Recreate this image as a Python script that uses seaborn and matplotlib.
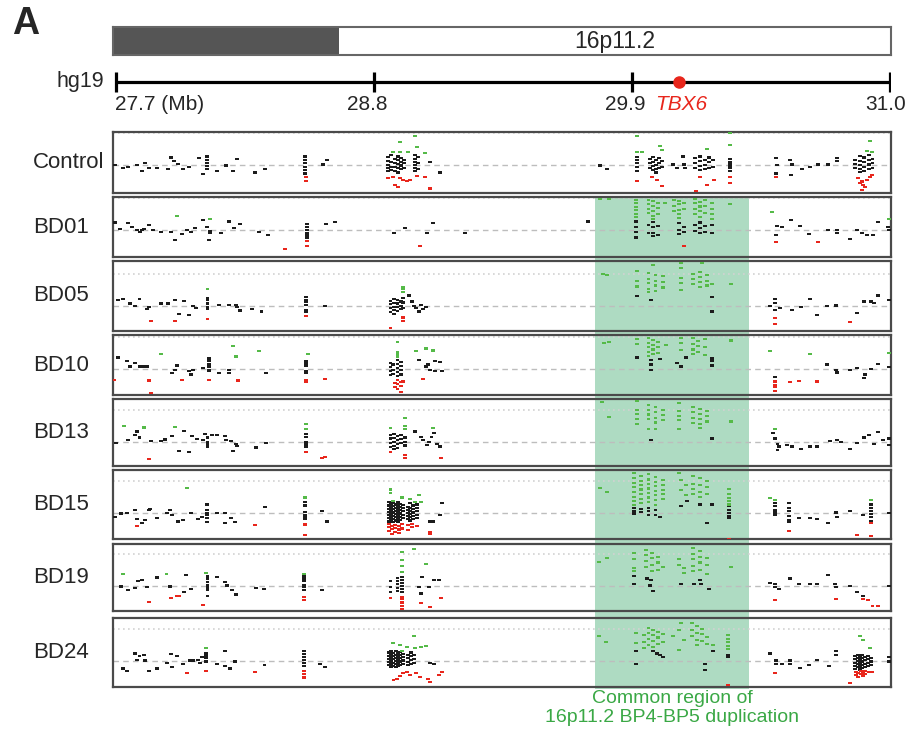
import numpy as np
import pandas as pd
import matplotlib
matplotlib.use("Agg")
import matplotlib.pyplot as plt
import matplotlib.transforms as mtransforms
from matplotlib.patches import Rectangle
import seaborn as sns

# region / axis
samples = ["Control", "BD01", "BD05", "BD10", "BD13", "BD15", "BD19", "BD24"]
axis_ticks = [27.7, 28.8, 29.9, 31.0]
axis_tick_labels = ["27.7 (Mb)", "28.8", "29.9", "31.0"]
tbx6_pos = 30.10
band_dark_end = 28.65
dup_start, dup_end = 29.74, 30.40
dup_level = 0.6

# probe log2 ratios, written as (position Mb, [ratios at that position])
control_black = [(27.696, [0.0]), (27.73, [-0.06]), (27.751, [-0.03]), (27.79, [0.0]), (27.811, [-0.11]),
    (27.824, [0.04]), (27.841, [-0.06]), (27.875, [-0.05]), (27.922, [-0.08]), (27.935, [0.14]),
    (27.947, [0.08]), (27.964, [0.02]), (27.986, [-0.08]), (28.011, [-0.03]), (28.054, [0.13]),
    (28.071, [-0.17]), (28.088, [0.16, 0.10, 0.04, -0.02, -0.08]), (28.131, [-0.11]), (28.169, [-0.01]),
    (28.199, [-0.11]), (28.216, [0.11]), (28.293, [-0.14]), (28.335, [-0.08]),
    (28.506, [0.16, 0.09, 0.03, -0.03, -0.09, -0.16]), (28.583, [0.01]), (28.60, [0.09]),
    (28.86, [0.15, 0.08, 0.0, -0.06, -0.12]), (28.872, [0.18, 0.05, -0.03, -0.10]),
    (28.89, [0.12, 0.04, -0.04, -0.12]), (28.903, [0.16, 0.09, 0.02, -0.06, -0.14]),
    (28.915, [0.13, 0.06, -0.01, -0.08]), (28.928, [0.10, 0.03, -0.05]),
    (28.975, [0.18, 0.12, 0.06, 0.0, -0.06, -0.12]), (28.988, [0.15, 0.04, -0.08]), (29.04, [0.06]),
    (29.082, [-0.14]), (29.764, [-0.01]), (29.794, [-0.08]), (29.922, [0.15, 0.09, 0.03, -0.04, -0.11]),
    (29.977, [0.12, 0.03, -0.06]), (29.99, [0.15, 0.06, -0.02, -0.10]), (30.003, [0.10, 0.0, -0.08, -0.14]),
    (30.015, [0.13, 0.04, -0.05]), (30.028, [0.08, -0.03]), (30.075, [0.01]), (30.092, [-0.06]),
    (30.118, [0.16]), (30.122, [0.01]), (30.126, [-0.06]), (30.17, [0.13, 0.03, -0.06]),
    (30.19, [0.16, 0.08, -0.02, -0.10]), (30.21, [0.10, 0.0, -0.08]), (30.23, [0.14, 0.05, -0.05]),
    (30.245, [0.09, -0.03]), (30.318, [0.11, 0.06, 0.02, -0.02, -0.06, -0.11]),
    (30.514, [0.13, -0.16]), (30.518, [0.0]), (30.574, [0.09]), (30.583, [0.01]), (30.578, [-0.18]),
    (30.625, [-0.08]), (30.66, [-0.03]), (30.694, [0.01]), (30.736, [0.01]), (30.775, [0.13, 0.08]),
    (30.85, [0.10, 0.02, -0.06]), (30.87, [0.17, 0.08, 0.0, -0.08, -0.13]), (30.89, [0.14, 0.05, -0.03, -0.11]),
    (30.91, [0.19, 0.10, 0.01, -0.07]), (30.925, [0.12, 0.03, -0.05])]
control_green = [(28.881, [0.24]), (28.911, [0.43, 0.24]), (28.945, [0.24]), (28.975, [0.55]), (28.984, [0.33]),
    (29.018, [0.22]), (29.922, [0.55, 0.24]), (29.943, [0.24]), (30.019, [0.36]), (30.028, [0.28]),
    (30.22, [0.30]), (30.318, [0.60, 0.38]), (30.902, [0.26]), (30.915, [0.45]), (30.924, [0.24])]
control_red = [(28.51, [-0.22, -0.30]), (28.86, [-0.24]), (28.881, [-0.22]), (28.89, [-0.38]), (28.903, [-0.41]),
    (28.911, [-0.25]), (28.924, [-0.28]), (28.941, [-0.30]), (28.954, [-0.28]), (28.984, [-0.20]),
    (29.018, [-0.22]), (29.039, [-0.44]), (29.922, [-0.30]), (29.986, [-0.22]), (30.007, [-0.28]),
    (30.028, [-0.39]), (30.173, [-0.49]), (30.19, [-0.22]), (30.22, [-0.37]), (30.25, [-0.28]),
    (30.318, [-0.22, -0.33]), (30.514, [-0.22]), (30.864, [-0.25]), (30.87, [-0.34]), (30.881, [-0.31, -0.47]),
    (30.885, [-0.38]), (30.895, [-0.42]), (30.902, [-0.28]), (30.915, [-0.22]), (30.924, [-0.19])]

bd01_black = [(27.696, [0.14]), (27.717, [0.02]), (27.751, [0.13]), (27.768, [0.06]), (27.79, [0.0]),
    (27.802, [-0.03]), (27.811, [0.0]), (27.82, [0.02]), (27.841, [0.09]), (27.858, [0.0]), (27.892, [-0.04]),
    (27.935, [-0.03]), (27.952, [-0.19]), (27.981, [-0.08]), (28.003, [0.0]), (28.02, [-0.04]), (28.037, [0.03]),
    (28.071, [0.18]), (28.088, [0.06]), (28.101, [-0.02, -0.06]), (28.097, [-0.19]), (28.148, [-0.06]),
    (28.182, [0.16]), (28.203, [0.03]), (28.229, [0.11]), (28.31, [-0.04]), (28.348, [-0.09]),
    (28.514, [0.11, 0.06, 0.0, -0.05, -0.10, -0.14]), (28.596, [0.11]), (28.634, [0.15]), (28.886, [-0.06]),
    (28.932, [0.04]), (29.026, [-0.06]), (29.052, [0.13]), (29.188, [-0.06]), (29.713, [0.16]),
    (29.917, [0.16, 0.06, -0.04, -0.14]), (29.97, [0.10, -0.05]), (29.99, [0.15, 0.05, -0.06, -0.12]),
    (30.01, [0.08, -0.10]), (30.10, [0.13, 0.0, -0.08]), (30.12, [0.05, -0.03]), (30.17, [0.10, -0.02]),
    (30.19, [0.14, 0.04, -0.06]), (30.21, [0.08, -0.04]), (30.24, [0.10, -0.06]), (30.518, [0.08]),
    (30.54, [0.06]), (30.514, [-0.09]), (30.578, [0.19]), (30.617, [0.08]), (30.655, [-0.08]), (30.736, [0.0]),
    (30.775, [0.0, -0.06]), (30.83, [-0.17]), (30.86, [0.0]), (30.881, [-0.06]), (30.902, [-0.09]),
    (30.928, [-0.09]), (30.949, [0.15]), (30.992, [0.06]), (30.996, [0.0])]
bd01_green = [(27.96, [0.27]), (28.101, [0.20]), (29.764, [0.58]), (29.802, [0.58]),
    (29.917, [0.57, 0.50, 0.43, 0.37, 0.30, 0.25]), (29.97, [0.57, 0.48, 0.40, 0.32]),
    (29.99, [0.55, 0.45, 0.36, 0.27, 0.20]), (30.01, [0.50, 0.42, 0.30]), (30.04, [0.50]),
    (30.08, [0.57, 0.45, 0.35]), (30.10, [0.55, 0.48, 0.38, 0.30, 0.22]), (30.12, [0.50, 0.40]),
    (30.17, [0.58, 0.50, 0.40, 0.30]), (30.19, [0.52, 0.44, 0.35, 0.25]), (30.21, [0.56, 0.45, 0.32]),
    (30.24, [0.50, 0.40, 0.30, 0.20]), (30.318, [0.48]), (30.498, [0.33]), (30.996, [0.21])]
bd01_red = [(28.421, [-0.36]), (28.514, [-0.21, -0.30]), (28.996, [-0.30]), (30.122, [-0.30]),
    (30.514, [-0.23]), (30.694, [-0.23])]

bd05_black = [(27.71, [0.10]), (27.73, [0.12]), (27.76, [0.04]), (27.78, [-0.01]), (27.80, [0.13]),
    (27.83, [-0.06]), (27.84, [-0.03]), (27.89, [0.04]), (27.92, [0.04]), (27.95, [0.11]), (27.97, [-0.16]),
    (27.99, [0.09]), (28.01, [-0.17]), (28.03, [0.0]), (28.04, [-0.04]), (28.09, [0.15, 0.10, 0.04, -0.02, -0.06]),
    (28.14, [0.02]), (28.18, [0.02]), (28.21, [0.02]), (28.215, [-0.03]), (28.23, [-0.09]), (28.28, [-0.06]),
    (28.32, [-0.11]), (28.51, [0.16, 0.11, 0.07, 0.02, -0.08, -0.11]), (28.59, [-0.01]),
    (28.87, [0.09, 0.03, -0.05, -0.12]), (28.885, [0.12, 0.05, -0.02, -0.08, -0.15]),
    (28.90, [0.10, 0.04, -0.03, -0.10]), (28.915, [0.08, 0.0, -0.06]), (28.925, [0.14, 0.06, -0.04]),
    (28.95, [0.19]), (28.96, [0.08]), (28.97, [-0.01]), (28.98, [-0.04]), (28.99, [-0.11]), (29.0, [0.02]),
    (29.01, [-0.06]), (29.02, [-0.03]), (29.92, [0.18]), (29.98, [0.10]), (30.24, [0.16, -0.11]),
    (30.49, [0.0]), (30.51, [0.13, 0.05, -0.08]), (30.53, [-0.04]), (30.58, [-0.08]), (30.62, [-0.03]),
    (30.66, [0.13]), (30.69, [-0.18]), (30.73, [-0.01]), (30.77, [0.02, -0.01]), (30.86, [-0.13]),
    (30.89, [0.08]), (30.92, [0.08]), (30.93, [0.05]), (30.95, [0.19]), (30.995, [0.11])]
bd05_green = [(28.09, [0.31]), (28.925, [0.34, 0.31, 0.26]), (29.775, [0.60]), (29.795, [0.58]),
    (29.92, [0.65, 0.46, 0.36]), (29.97, [0.62, 0.50, 0.42, 0.32, 0.25]), (29.99, [0.77]),
    (30.0, [0.58, 0.46, 0.38, 0.28]), (30.03, [0.55, 0.44, 0.34]), (30.11, [0.80, 0.71, 0.52, 0.43, 0.30]),
    (30.16, [0.60, 0.50, 0.40]), (30.19, [0.64, 0.54, 0.44, 0.35]), (30.20, [0.80]),
    (30.22, [0.58, 0.47, 0.38]), (30.24, [0.40]), (30.32, [0.41])]
bd05_red = [(27.85, [-0.28]), (27.95, [-0.29]), (28.09, [-0.25]), (28.51, [-0.20]), (28.87, [-0.42]),
    (28.925, [-0.22, -0.28]), (30.51, [-0.23, -0.35]), (30.83, [-0.31])]

bd10_black = [(27.71, [0.21]), (27.745, [0.14]), (27.76, [0.04]), (27.78, [0.11]), (27.80, [0.04]),
    (27.815, [0.04]), (27.83, [0.04]), (27.94, [-0.08]), (27.95, [-0.02]), (27.96, [0.06]), (28.01, [-0.05]),
    (28.02, [-0.11]), (28.03, [-0.02]), (28.07, [0.01]), (28.095, [0.19, 0.14, 0.09, 0.04, -0.02, -0.05]),
    (28.14, [-0.08]), (28.18, [-0.02, -0.08]), (28.34, [-0.08]), (28.51, [0.15, 0.11, 0.06, -0.05, -0.08]),
    (28.87, [0.11, 0.03, -0.05, -0.12]), (28.88, [0.08, -0.02, -0.10]), (28.90, [0.16, 0.09, 0.02, -0.06, -0.14]),
    (28.915, [0.12, 0.05, -0.03, -0.11]), (28.99, [0.16]), (29.02, [0.04]), (29.03, [0.08]), (29.04, [-0.02]),
    (29.06, [0.14, -0.04]), (29.08, [0.13]), (29.09, [-0.04]), (29.92, [0.21]), (29.98, [0.17, 0.08, -0.02]),
    (30.02, [0.18]), (30.09, [0.11]), (30.11, [0.04]), (30.13, [0.21]), (30.24, [0.19, 0.14, 0.06]),
    (30.51, [-0.16]), (30.73, [0.08]), (30.77, [-0.02]), (30.775, [-0.07]), (30.83, [-0.03]), (30.86, [0.01]),
    (30.89, [-0.18]), (30.895, [-0.11]), (30.92, [0.0]), (30.95, [0.09]), (30.995, [0.03])]
bd10_green = [(27.89, [0.28]), (28.20, [0.42]), (28.21, [0.23]), (28.31, [0.33]), (28.52, [0.28]),
    (28.90, [0.50, 0.31, 0.28, 0.23]), (28.98, [0.33]), (29.02, [0.38]), (29.05, [0.34]), (29.78, [0.48]),
    (29.80, [0.50]), (29.92, [0.55, 0.47]), (29.97, [0.57, 0.48, 0.40, 0.31, 0.24]),
    (29.99, [0.54, 0.45, 0.36, 0.27]), (30.01, [0.50, 0.41, 0.30]), (30.045, [0.45]),
    (30.11, [0.57, 0.48, 0.35]), (30.16, [0.57, 0.47, 0.36, 0.28]), (30.18, [0.52, 0.42, 0.32]),
    (30.21, [0.55, 0.40, 0.26]), (30.32, [0.53]), (30.49, [0.33]), (30.66, [0.28]), (30.995, [0.30])]
bd10_red = [(27.69, [-0.21]), (27.84, [-0.22]), (27.85, [-0.45]), (27.98, [-0.21]), (28.095, [-0.21]),
    (28.22, [-0.22]), (28.51, [-0.21, -0.24]), (28.59, [-0.19]), (28.89, [-0.27, -0.35]),
    (28.90, [-0.21, -0.29, -0.38]), (28.915, [-0.25, -0.33, -0.43]), (28.925, [-0.24]), (29.01, [-0.19]),
    (30.51, [-0.24, -0.30, -0.35, -0.42]), (30.575, [-0.25]), (30.61, [-0.23]), (30.69, [-0.24])]

bd13_black = [(27.70, [-0.03]), (27.75, [0.03]), (27.78, [0.13]), (27.79, [0.19]), (27.80, [0.08]),
    (27.85, [0.01]), (27.89, [0.01]), (27.91, [0.04]), (27.94, [0.11]), (27.97, [-0.18]), (27.99, [0.20]),
    (28.01, [-0.20]), (28.025, [0.11]), (28.045, [0.05]), (28.07, [0.03]), (28.08, [0.14]),
    (28.09, [0.08, 0.0, -0.03, -0.06, -0.09]), (28.11, [0.13]), (28.13, [0.13]), (28.165, [0.11]),
    (28.17, [0.03]), (28.19, [0.01]), (28.20, [-0.18]), (28.21, [-0.05]), (28.215, [-0.08]), (28.295, [-0.11]),
    (28.34, [-0.02]), (28.51, [0.14, 0.09, 0.0, -0.05, -0.09]), (28.87, [0.12, 0.06, -0.02, -0.10]),
    (28.885, [0.14, 0.07, 0.0, -0.08, -0.14]), (28.90, [0.10, 0.03, -0.05, -0.12]), (28.915, [0.12, 0.05, -0.03]),
    (28.93, [0.08, 0.0, -0.07]), (28.975, [0.19]), (29.0, [0.09]), (29.01, [0.03]), (29.025, [-0.06]),
    (29.035, [0.0]), (29.045, [0.09]), (29.055, [0.16]), (29.07, [-0.05]), (29.08, [-0.09]), (29.98, [0.03]),
    (30.24, [0.06]), (30.50, [0.16]), (30.51, [0.06]), (30.52, [-0.05, -0.16]), (30.525, [-0.09]),
    (30.56, [-0.06]), (30.58, [-0.09]), (30.62, [-0.14]), (30.66, [-0.09]), (30.69, [-0.09]), (30.745, [0.01]),
    (30.775, [0.03]), (30.79, [0.0]), (30.83, [-0.13]), (30.86, [-0.03]), (30.89, [0.08]), (30.91, [0.13]),
    (30.93, [-0.05]), (30.95, [0.18]), (30.97, [0.03]), (30.995, [0.06, -0.06])]
bd13_green = [(27.735, [0.30]), (27.82, [0.27, 0.25]), (27.95, [0.28]), (28.51, [0.33, 0.24]), (28.87, [0.25]),
    (28.93, [0.44, 0.30, 0.24]), (29.05, [0.25]), (29.77, [0.74]), (29.80, [0.47]),
    (29.92, [0.76, 0.60, 0.52, 0.43, 0.33]), (29.97, [0.69, 0.60, 0.51, 0.42, 0.24]),
    (30.0, [0.65, 0.55, 0.45, 0.36, 0.24]), (30.03, [0.60, 0.50, 0.40]), (30.10, [0.72, 0.57, 0.48, 0.40, 0.24]),
    (30.16, [0.65, 0.55, 0.45, 0.35]), (30.19, [0.62, 0.52, 0.42, 0.33, 0.25]), (30.22, [0.58, 0.48, 0.38]),
    (30.32, [0.38]), (30.51, [0.24])]
bd13_red = [(27.84, [-0.33]), (28.51, [-0.20]), (28.58, [-0.31]), (28.59, [-0.28]), (28.87, [-0.20]),
    (28.93, [-0.25, -0.30]), (29.085, [-0.31])]

bd15_black = [(27.696, [-0.08]), (27.72, [-0.01]), (27.745, [0.0]), (27.78, [0.06]), (27.79, [-0.11]),
    (27.81, [-0.19]), (27.824, [-0.13]), (27.84, [0.05]), (27.845, [0.08]), (27.876, [-0.09]), (27.916, [0.0]),
    (27.93, [0.05]), (27.94, [-0.04]), (27.966, [-0.16]), (27.987, [-0.13]), (28.018, [0.0]), (28.05, [-0.11]),
    (28.065, [-0.08]), (28.087, [0.16, 0.05, 0.0, -0.03, -0.09, -0.17]), (28.13, [0.0]), (28.165, [0.0, -0.19]),
    (28.19, [-0.09]), (28.207, [-0.17]), (28.335, [0.11]), (28.506, [0.21, 0.14, 0.02, -0.03, -0.08, -0.11]),
    (28.58, [0.04]), (28.60, [-0.16]),
    (28.862, [0.20, 0.14, 0.08, 0.02, -0.04, -0.10, -0.16]), (28.872, [0.17, 0.11, 0.05, -0.01, -0.07, -0.13]),
    (28.882, [0.19, 0.13, 0.07, 0.01, -0.05, -0.11, -0.17]), (28.892, [0.16, 0.10, 0.04, -0.02, -0.08, -0.14]),
    (28.902, [0.20, 0.14, 0.08, 0.02, -0.04, -0.10, -0.16]), (28.912, [0.17, 0.11, 0.05, -0.01, -0.07, -0.13]),
    (28.922, [0.15, 0.09, 0.03, -0.03, -0.09]), (28.945, [0.12, 0.06, 0.0, -0.06, -0.12]),
    (28.955, [0.18, 0.10, 0.04, -0.02, -0.08, -0.14]), (28.965, [0.14, 0.07, 0.01, -0.05, -0.11]),
    (28.985, [0.16, 0.09, 0.03, -0.04, -0.10]), (29.04, [-0.16]), (29.053, [-0.16]), (29.08, [-0.03]),
    (29.09, [0.19]), (29.91, [0.09, 0.04, -0.01]), (29.94, [0.08, 0.02]), (29.97, [0.10, 0.03, -0.03]),
    (30.0, [0.05, -0.04]), (30.02, [-0.08]), (30.11, [0.13]), (30.135, [0.22]), (30.19, [0.16]), (30.22, [-0.19]),
    (30.24, [0.16]), (30.315, [0.13, 0.06, 0.0, -0.06, -0.09]), (30.51, [0.19, 0.13, 0.06, 0.01, -0.03]),
    (30.57, [0.18, 0.09, 0.03, -0.06, -0.13, -0.16]), (30.61, [-0.09]), (30.66, [-0.09]), (30.69, [-0.11]),
    (30.735, [-0.19]), (30.77, [0.01]), (30.775, [-0.08]), (30.83, [0.04]), (30.885, [-0.03]),
    (30.92, [0.16, 0.10, 0.04, -0.02, -0.08, -0.15]), (30.995, [0.0])]
bd15_green = [(28.004, [0.47]), (28.506, [0.29]), (28.87, [0.44, 0.38]), (28.88, [0.23]), (28.92, [0.29]),
    (28.955, [0.27]), (28.975, [0.21]), (28.99, [0.33]), (29.0, [0.21]), (29.765, [0.47]), (29.795, [0.39]),
    (29.91, [0.75, 0.65, 0.57, 0.48, 0.40, 0.30, 0.22, 0.15]), (29.94, [0.70, 0.60, 0.52, 0.44, 0.35, 0.26, 0.18]),
    (29.97, [0.73, 0.63, 0.55, 0.46, 0.38, 0.29, 0.20]), (30.0, [0.68, 0.58, 0.50, 0.41, 0.33, 0.24, 0.15]),
    (30.03, [0.62, 0.53, 0.43, 0.35, 0.26]), (30.10, [0.75]), (30.11, [0.62, 0.43]), (30.13, [0.52, 0.33]),
    (30.16, [0.70, 0.55, 0.45, 0.35]), (30.19, [0.65, 0.52, 0.40, 0.30]), (30.22, [0.60, 0.48, 0.36]),
    (30.315, [0.45, 0.35, 0.28, 0.22, 0.16]), (30.49, [0.28]), (30.51, [0.25]), (30.92, [0.24])]
bd15_red = [(27.79, [-0.25]), (28.293, [-0.22]), (28.506, [-0.20, -0.23, -0.42]), (28.862, [-0.21, -0.27, -0.34]),
    (28.875, [-0.24, -0.30, -0.40]), (28.89, [-0.22, -0.28, -0.35]), (28.905, [-0.25, -0.31, -0.38]),
    (28.92, [-0.21, -0.29]), (28.945, [-0.23, -0.32]), (28.96, [-0.21, -0.27]), (28.985, [-0.24]),
    (29.04, [-0.36, -0.40]), (30.315, [-0.49]), (30.57, [-0.33]), (30.86, [-0.41]), (30.92, [-0.19, -0.43])]

bd19_black = [(27.72, [-0.01]), (27.75, [-0.08]), (27.78, [-0.03]), (27.795, [0.09]), (27.81, [0.12]),
    (27.83, [-0.02]), (27.875, [0.16]), (27.93, [-0.01]), (27.99, [-0.11]), (28.0, [0.20]), (28.02, [-0.05]),
    (28.09, [0.18, 0.14, 0.08, 0.01, -0.03, -0.07, -0.18]), (28.13, [0.17]), (28.165, [0.08]), (28.175, [0.01]),
    (28.195, [-0.07]), (28.21, [-0.16]), (28.295, [-0.03]), (28.33, [-0.05]),
    (28.50, [0.18, 0.14, 0.09, 0.01, -0.02, -0.08]), (28.58, [-0.07]), (28.87, [0.10, -0.02, -0.12]),
    (28.90, [0.15, 0.09, 0.03, -0.03, -0.09]), (28.92, [0.17, 0.11, 0.05, 0.0, -0.06, -0.12]), (28.99, [-0.02]),
    (29.0, [-0.14]), (29.005, [0.17]), (29.035, [-0.02]), (29.055, [0.12]), (29.075, [0.11]), (29.91, [0.18, 0.03]),
    (29.965, [0.14]), (29.975, [0.01]), (29.98, [0.11]), (29.99, [-0.09]), (30.11, [0.04]), (30.165, [0.04]),
    (30.19, [0.12]), (30.195, [0.04]), (30.23, [-0.05]), (30.49, [0.06]), (30.51, [0.04, -0.02]),
    (30.525, [-0.05]), (30.575, [0.14]), (30.61, [0.03]), (30.66, [0.03]), (30.69, [0.03]), (30.735, [0.20]),
    (30.765, [0.04]), (30.77, [-0.02]), (30.83, [0.0]), (30.86, [-0.11]), (30.885, [-0.18]), (30.995, [0.0])]
bd19_green = [(27.73, [0.22]), (27.915, [0.22]), (28.085, [0.25]), (28.50, [0.22]), (28.92, [0.64, 0.48, 0.37, 0.26]),
    (28.97, [0.69]), (29.02, [0.41]), (29.76, [0.45]), (29.795, [0.52]), (29.91, [0.62, 0.50, 0.34, 0.28]),
    (29.96, [0.68, 0.58, 0.47, 0.36]), (29.985, [0.62, 0.52, 0.40, 0.28]), (30.01, [0.55, 0.44, 0.30]),
    (30.03, [0.36]), (30.10, [0.50, 0.40]), (30.12, [0.33, 0.24]), (30.16, [0.72, 0.60, 0.50, 0.38, 0.28]),
    (30.19, [0.66, 0.54, 0.44, 0.30]), (30.22, [0.52, 0.40, 0.22]), (30.32, [0.36])]
bd19_red = [(27.84, [-0.30]), (27.935, [-0.22]), (27.96, [-0.19]), (27.97, [-0.18]), (28.07, [-0.35]),
    (28.50, [-0.21, -0.26]), (28.87, [-0.23]), (28.92, [-0.20, -0.25, -0.31, -0.38, -0.43]), (29.0, [-0.32]),
    (29.04, [-0.40]), (29.085, [-0.22]), (30.51, [-0.27]), (30.77, [-0.24]), (30.885, [-0.24]), (30.905, [-0.27]),
    (30.925, [-0.38]), (30.95, [-0.38])]

bd24_black = [(27.73, [-0.14]), (27.745, [-0.18]), (27.78, [0.14]), (27.79, [0.02]), (27.80, [0.09]),
    (27.82, [0.11]), (27.824, [0.01]), (27.84, [-0.18]), (27.876, [-0.14]), (27.916, [-0.03]), (27.933, [0.13]),
    (27.94, [-0.11]), (27.96, [0.09]), (27.987, [-0.06]), (28.016, [0.01]), (28.03, [0.01]), (28.05, [0.02]),
    (28.058, [-0.03]), (28.065, [0.07]), (28.084, [0.14, 0.09, 0.05, -0.01]), (28.13, [-0.06]),
    (28.165, [0.19, -0.09]), (28.186, [-0.14]), (28.207, [-0.01]), (28.333, [-0.08]),
    (28.50, [0.19, 0.13, 0.07, 0.02, -0.04, -0.09]), (28.57, [-0.06]), (28.59, [-0.12]),
    (28.862, [0.16, 0.10, 0.04, -0.02, -0.08]), (28.872, [0.19, 0.13, 0.07, 0.01, -0.05, -0.11]),
    (28.882, [0.15, 0.09, 0.03, -0.03, -0.09]), (28.892, [0.18, 0.12, 0.06, 0.0, -0.06, -0.11]),
    (28.902, [0.14, 0.08, 0.02, -0.04, -0.10]), (28.912, [0.17, 0.11, 0.05, -0.01, -0.07]),
    (28.922, [0.13, 0.07, 0.01, -0.05]), (28.945, [0.12, 0.05, -0.02, -0.08]), (28.958, [0.16, 0.09, 0.02, -0.05]),
    (28.97, [0.11, 0.04, -0.03]), (29.04, [-0.04]), (29.056, [-0.06]), (29.915, [0.18, -0.06]), (29.99, [0.18]),
    (30.005, [0.14]), (30.02, [0.11]), (30.03, [0.07]), (30.21, [-0.06, -0.17]), (30.245, [0.18]),
    (30.31, [0.11, 0.07]), (30.49, [0.14]), (30.514, [0.01, -0.06]), (30.54, [-0.06]), (30.575, [0.01, -0.06]),
    (30.615, [-0.13]), (30.655, [-0.08]), (30.69, [0.02]), (30.74, [-0.09]), (30.77, [0.18, 0.11]),
    (30.852, [0.10, 0.04, -0.03, -0.09, -0.15]), (30.862, [0.12, 0.06, 0.0, -0.06, -0.12]),
    (30.872, [0.09, 0.03, -0.04, -0.10, -0.16]), (30.882, [0.11, 0.05, -0.01, -0.07, -0.13]),
    (30.892, [0.08, 0.02, -0.05, -0.11]), (30.905, [0.10, 0.03, -0.04, -0.10]), (30.918, [0.06, -0.01, -0.08]),
    (30.995, [0.07, -0.01])]
bd24_green = [(28.084, [0.24]), (28.88, [0.33]), (28.91, [0.30]), (28.92, [0.18]), (28.94, [0.26]), (28.97, [0.47]),
    (28.975, [0.25]), (29.0, [0.27]), (29.02, [0.28]), (29.76, [0.47]), (29.79, [0.36]), (29.915, [0.52, 0.33]),
    (29.95, [0.48, 0.35, 0.25]), (29.97, [0.62, 0.52, 0.42, 0.30]), (29.99, [0.58, 0.48, 0.38, 0.26]),
    (30.01, [0.55, 0.44, 0.32]), (30.03, [0.50, 0.36]), (30.075, [0.47]), (30.10, [0.58, 0.21]), (30.11, [0.71]),
    (30.12, [0.40]), (30.155, [0.72, 0.58, 0.47]), (30.175, [0.65, 0.52, 0.40, 0.30]), (30.20, [0.60, 0.50, 0.38]),
    (30.22, [0.45, 0.32]), (30.245, [0.30]), (30.31, [0.49, 0.41, 0.35, 0.28, 0.22]), (30.87, [0.47]),
    (30.885, [0.40]), (30.915, [0.24])]
bd24_red = [(28.004, [-0.23]), (28.084, [-0.19]), (28.293, [-0.20]), (28.50, [-0.19, -0.25, -0.31]),
    (28.883, [-0.36]), (28.897, [-0.33]), (28.911, [-0.28]), (28.925, [-0.23]), (28.94, [-0.20]), (28.954, [-0.26]),
    (28.98, [-0.23]), (28.996, [-0.30]), (29.03, [-0.33]), (29.04, [-0.39]), (29.075, [-0.26]), (29.09, [-0.20]),
    (30.31, [-0.45]), (30.51, [-0.23]), (30.83, [-0.42]), (30.855, [-0.20, -0.26]), (30.865, [-0.22, -0.30]),
    (30.875, [-0.19, -0.25]), (30.885, [-0.21, -0.28]), (30.895, [-0.19, -0.24]), (30.91, [-0.20]), (30.925, [-0.21])]

panel_data = {
    "Control": (control_black, control_green, control_red),
    "BD01": (bd01_black, bd01_green, bd01_red),
    "BD05": (bd05_black, bd05_green, bd05_red),
    "BD10": (bd10_black, bd10_green, bd10_red),
    "BD13": (bd13_black, bd13_green, bd13_red),
    "BD15": (bd15_black, bd15_green, bd15_red),
    "BD19": (bd19_black, bd19_green, bd19_red),
    "BD24": (bd24_black, bd24_green, bd24_red),
}

# layout (pixels of the 908x737 canvas)
W, H = 908, 737
left_px, right_px = 113, 891
panel_px = [(132, 193), (197, 257), (261, 331), (335, 395), (399, 466), (470, 539), (544, 611), (618, 687)]
baseline_px = [165, 230, 305.7, 368.7, 441.7, 513, 586, 661]
px_per_unit = 53.3
xlim = (27.687, 31.004)

call_colors = {"normal": "#1c1c1c", "gain": "#55ba48", "loss": "#e8261c"}
dash = [(-1, -0.55), (1, -0.55), (1, 0.55), (-1, 0.55)]


def to_frame(cols, call):
    rows = [(p, r, call) for p, vals in cols for r in vals]
    return pd.DataFrame(rows, columns=["pos", "ratio", "call"])


sns.set_style("white")
plt.rcParams["font.family"] = ["Liberation Sans", "DejaVu Sans"]

fig = plt.figure(figsize=(W / 100, H / 100), dpi=100)

def fx(px):
    return px / W

def fy(px):
    return 1 - px / H

# panel A label
fig.text(fx(26), fy(24), "A", fontsize=27, fontweight="bold", ha="center", va="center")

# cytoband bar
ax_bar = fig.add_axes([fx(left_px), fy(55), fx(right_px - left_px), 28 / H])
ax_bar.set_xlim(xlim)
ax_bar.set_ylim(0, 1)
ax_bar.axvspan(xlim[0], band_dark_end, color="#555555", lw=0)
ax_bar.text((band_dark_end + xlim[1]) / 2, 0.47, "16p11.2", ha="center", va="center", fontsize=16.5)
ax_bar.set_xticks([])
ax_bar.set_yticks([])
for s in ax_bar.spines.values():
    s.set_color("#666666")
    s.set_linewidth(1.5)

# hg19 axis
ax_axis = fig.add_axes([fx(left_px), fy(125), fx(right_px - left_px), 65 / H])
ax_axis.set_xlim(xlim)
ax_axis.set_ylim(125, 60)
ax_axis.axis("off")
ax_axis.hlines(82, axis_ticks[0], axis_ticks[-1], color="black", lw=2.3)
ax_axis.vlines(axis_ticks, 72, 92, color="black", lw=2.3)
for i, (t, lab) in enumerate(zip(axis_ticks, axis_tick_labels)):
    if i == 0:
        ax_axis.text(t - 0.005, 104, lab, ha="left", va="center", fontsize=15)
    elif i == len(axis_ticks) - 1:
        ax_axis.text(t + 0.07, 104, lab, ha="right", va="center", fontsize=15, clip_on=False)
    else:
        ax_axis.text(t - 0.03, 104, lab, ha="center", va="center", fontsize=15)
ax_axis.plot([tbx6_pos], [82], "o", color="#e8261c", ms=8, zorder=5)
ax_axis.text(tbx6_pos + 0.01, 104, "TBX6", ha="center", va="center", fontsize=15,
             style="italic", color="#e8261c")
fig.text(fx(104), fy(81), "hg19", ha="right", va="center", fontsize=15.5)

# sample panels
axes = []
for i, name in enumerate(samples):
    top, bot = panel_px[i]
    base = baseline_px[i]
    ax = fig.add_axes([fx(left_px), fy(bot), fx(right_px - left_px), (bot - top) / H])
    ax.set_facecolor("none")
    black, green, red = panel_data[name]
    df = pd.concat([to_frame(black, "normal"), to_frame(green, "gain"), to_frame(red, "loss")],
                   ignore_index=True)
    ax.axhline(0, color="#bdbdbd", ls=(0, (4, 3)), lw=1.0, zorder=1)
    ax.axhline(dup_level, color="#d2d2d2", ls=(0, (1, 2)), lw=1.2, zorder=1)
    sns.scatterplot(data=df, x="pos", y="ratio", hue="call", palette=call_colors, marker=dash,
                    s=8, linewidth=0, edgecolor="none", legend=False, ax=ax, zorder=3)
    ax.set_xlim(xlim)
    ax.set_ylim(-(bot - base) / px_per_unit, (base - top) / px_per_unit)
    ax.set_xticks([])
    ax.set_yticks([])
    ax.set_xlabel("")
    ax.set_ylabel("")
    for s in ax.spines.values():
        s.set_color("#4a4a4a")
        s.set_linewidth(1.6)
    fig.text(fx(33), fy((top + bot) / 2), name, ha="left", va="center", fontsize=16)
    axes.append(ax)

# shared duplication region behind the panels
trans = mtransforms.blended_transform_factory(axes[0].transData, fig.transFigure)
region = Rectangle((dup_start, fy(689)), dup_end - dup_start, (689 - 196) / H, transform=trans,
                   facecolor="#aedbc2", edgecolor="none", zorder=-1)
fig.add_artist(region)

fig.text(fx(672), fy(708), "Common region of\n16p11.2 BP4-BP5 duplication", ha="center", va="center",
         fontsize=14, color="#3aa845", linespacing=1.15)

fig.savefig("out.png", dpi=100)
